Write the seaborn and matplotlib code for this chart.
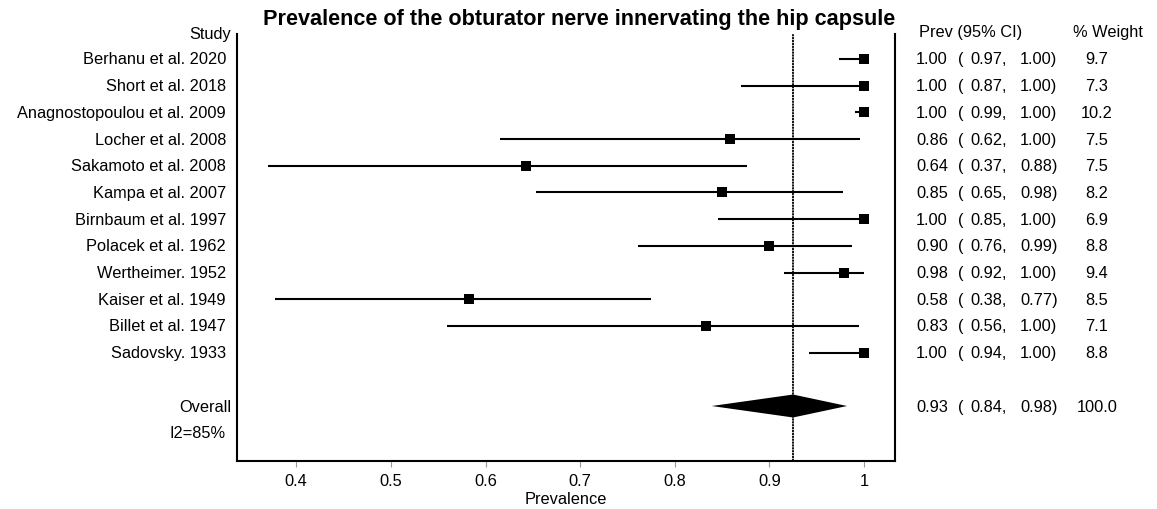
import matplotlib
matplotlib.use("Agg")
import matplotlib.pyplot as plt
import matplotlib.transforms as mtransforms
import seaborn as sns
import pandas as pd

# ---- data ----
studies = ["Berhanu et al. 2020", "Short et al. 2018", "Anagnostopoulou et al. 2009",
           "Locher et al. 2008", "Sakamoto et al. 2008", "Kampa et al. 2007",
           "Birnbaum et al. 1997", "Polacek et al. 1962", "Wertheimer. 1952",
           "Kaiser et al. 1949", "Billet et al. 1947", "Sadovsky. 1933"]
prev = [1.00, 1.00, 1.00, 0.858, 0.643, 0.850, 1.00, 0.900, 0.979, 0.583, 0.833, 1.00]
ci_low = [0.973, 0.870, 0.990, 0.615, 0.370, 0.653, 0.846, 0.761, 0.915, 0.378, 0.559, 0.942]
ci_high = [1.00, 1.00, 1.00, 0.996, 0.876, 0.978, 1.00, 0.987, 1.00, 0.775, 0.995, 1.00]
weights = ["9.7", "7.3", "10.2", "7.5", "7.5", "8.2", "6.9", "8.8", "9.4", "8.5", "7.1", "8.8"]
prev_txt = ["1.00", "1.00", "1.00", "0.86", "0.64", "0.85", "1.00", "0.90", "0.98", "0.58", "0.83", "1.00"]
low_txt = ["0.97", "0.87", "0.99", "0.62", "0.37", "0.65", "0.85", "0.76", "0.92", "0.38", "0.56", "0.94"]
high_txt = ["1.00", "1.00", "1.00", "1.00", "0.88", "0.98", "1.00", "0.99", "1.00", "0.77", "1.00", "1.00"]

overall = 0.925
overall_low = 0.839
overall_high = 0.982
overall_txt = ("0.93", "0.84", "0.98", "100.0")
i2_label = "I2=85%"
xticks = [0.4, 0.5, 0.6, 0.7, 0.8, 0.9, 1.0]
xticklabels = ["0.4", "0.5", "0.6", "0.7", "0.8", "0.9", "1"]

rows = list(range(1, len(studies) + 1))
overall_row = len(studies) + 2
i2_row = overall_row + 1

df = pd.DataFrame({"study": studies, "prev": prev, "lo": ci_low, "hi": ci_high, "row": rows})

# ---- figure ----
sns.set_theme(style="white")
plt.rcParams["font.family"] = ["Liberation Sans", "DejaVu Sans"]
plt.rcParams["text.color"] = "black"
plt.rcParams["axes.labelcolor"] = "black"
plt.rcParams["xtick.color"] = "black"
plt.rcParams["xtick.labelcolor"] = "black"
W, H = 1157, 510
fig = plt.figure(figsize=(W / 100, H / 100), dpi=100)
ax = fig.add_axes([237 / W, 1 - 462 / H, (895 - 237) / W, (462 - 35) / H])

FS = 11.8

# CI lines
ax.hlines(df["row"], df["lo"], df["hi"], color="black", lw=1.5, zorder=2)
# squares
sns.scatterplot(data=df, x="prev", y="row", marker="s", s=62, color="black",
                linewidth=0, legend=False, ax=ax, zorder=3)

# overall line
ax.axvline(overall, color="black", lw=1.3, linestyle=(0, (1.2, 0.4)), zorder=1)

# diamond
hh = 0.43
ax.fill([overall_low, overall, overall_high, overall],
        [overall_row, overall_row - hh, overall_row, overall_row + hh],
        color="black", zorder=4, lw=0)

ax.set_xlim(0.3374, 1.0327)
ax.set_ylim(16.06, 0.064)
ax.set_yticks([])
ax.set_xticks(xticks)
ax.set_xticklabels(xticklabels, fontsize=FS, color="black")
ax.tick_params(axis="x", direction="out", length=4, width=0.8, color="#999999",
               pad=5, bottom=True)
ax.set_xlabel("Prevalence", fontsize=FS, labelpad=2, color="black")
ax.set_ylabel("")
for side in ["left", "right", "bottom"]:
    ax.spines[side].set_visible(True)
    ax.spines[side].set_color("black")
    ax.spines[side].set_linewidth(1.5)
ax.spines["top"].set_visible(False)

trans = mtransforms.blended_transform_factory(fig.transFigure, ax.transData)

def fx(px):
    return px / W

# study labels
for r, s in zip(rows, studies):
    ax.text(fx(226), r, s, transform=trans, ha="right", va="center", fontsize=FS, color="black")
ax.text(fx(231), overall_row, "Overall", transform=trans, ha="right", va="center", fontsize=FS, color="black")
ax.text(fx(226), i2_row, i2_label, transform=trans, ha="right", va="center", fontsize=FS, color="black")

# headers
fig.text(fx(231), 1 - 34 / H, "Study", ha="right", va="center", fontsize=FS, color="black")
fig.text(fx(919), 1 - 33 / H, "Prev (95% CI)", ha="left", va="center", fontsize=FS, color="black")
fig.text(fx(1073), 1 - 33 / H, "% Weight", ha="left", va="center", fontsize=FS, color="black")
fig.text(fx(579), 1 - 20 / H, "Prevalence of the obturator nerve innervating the hip capsule",
         ha="center", va="center", fontsize=15.6, fontweight="bold", color="black")

def value_row(r, p, l, h, w):
    kw = dict(transform=trans, va="center", fontsize=FS, color="black")
    ax.text(fx(916), r, p, ha="left", **kw)
    ax.text(fx(958), r, "(", ha="left", **kw)
    ax.text(fx(970), r, l + ",", ha="left", **kw)
    ax.text(fx(1020), r, h + ")", ha="left", **kw)
    ax.text(fx(1097), r, w, ha="center", **kw)

for r, p, l, h, w in zip(rows, prev_txt, low_txt, high_txt, weights):
    value_row(r, p, l, h, w)
value_row(overall_row, *overall_txt)

fig.savefig("out.png", dpi=100, facecolor="white")
